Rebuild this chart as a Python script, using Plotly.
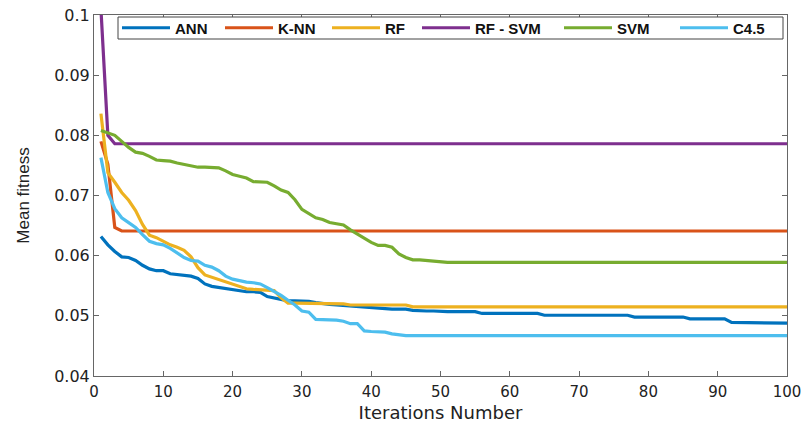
import plotly.graph_objects as go

iterations = list(range(1, 101))

ann = [0.0632, 0.0618, 0.0607, 0.0598, 0.0597, 0.0592, 0.0584, 0.0578, 0.0575, 0.0575,
       0.0570, 0.0569, 0.0568, 0.0566, 0.0562, 0.0553, 0.0549, 0.0547, 0.0545, 0.0544,
       0.0542, 0.0540, 0.0540, 0.0539, 0.0532, 0.0530, 0.0527, 0.0525, 0.0525, 0.0525,
       0.0524, 0.0522, 0.0520, 0.0519, 0.0518, 0.0517, 0.0516, 0.0515, 0.0515, 0.0514,
       0.0513, 0.0511, 0.0511, 0.0511, 0.0511, 0.0509, 0.0508, 0.0508, 0.0508, 0.0507,
       0.0507, 0.0507, 0.0507, 0.0507, 0.0507, 0.0504, 0.0504, 0.0504, 0.0504, 0.0504,
       0.0504, 0.0504, 0.0504, 0.0504, 0.0501, 0.0501, 0.0501, 0.0501, 0.0501, 0.0501,
       0.0501, 0.0501, 0.0501, 0.0501, 0.0501, 0.0501, 0.0501, 0.0498, 0.0498, 0.0498,
       0.0498, 0.0498, 0.0498, 0.0498, 0.0498, 0.0495, 0.0495, 0.0495, 0.0495, 0.0495,
       0.0495, 0.0489, 0.0489, 0.0488, 0.0488, 0.0488, 0.0488, 0.0488, 0.0488, 0.0488]

knn = [0.0790, 0.0752, 0.0647] + [0.0641] * 97

rf = [0.0836, 0.0738, 0.0722, 0.0705, 0.0692, 0.0675, 0.0652, 0.0634, 0.0630, 0.0624,
      0.0618, 0.0614, 0.0609, 0.0598, 0.0580, 0.0568, 0.0564, 0.0560, 0.0556, 0.0553,
      0.0549, 0.0545, 0.0544, 0.0543, 0.0543, 0.0542, 0.0530, 0.0521, 0.0521, 0.0521,
      0.0521, 0.0521, 0.0521, 0.0520, 0.0520, 0.0520, 0.0518, 0.0518, 0.0518, 0.0518,
      0.0518, 0.0518, 0.0518, 0.0518, 0.0518] + [0.0515] * 55

rf_svm = [0.1010, 0.0800] + [0.0786] * 98

svm = [0.0808, 0.0804, 0.0800, 0.0790, 0.0780, 0.0772, 0.0770, 0.0765, 0.0759, 0.0758,
       0.0757, 0.0754, 0.0752, 0.0749, 0.0747, 0.0747, 0.0747, 0.0746, 0.0741, 0.0735,
       0.0732, 0.0729, 0.0723, 0.0723, 0.0722, 0.0716, 0.0709, 0.0705, 0.0693, 0.0677,
       0.0670, 0.0663, 0.0660, 0.0655, 0.0653, 0.0651, 0.0643, 0.0636, 0.0630, 0.0622,
       0.0617, 0.0617, 0.0614, 0.0603, 0.0597, 0.0593, 0.0593, 0.0592, 0.0590] + [0.0589] * 51

c45 = [0.0763, 0.0705, 0.0678, 0.0663, 0.0655, 0.0647, 0.0635, 0.0624, 0.0620, 0.0618,
       0.0612, 0.0605, 0.0597, 0.0592, 0.0591, 0.0584, 0.0581, 0.0575, 0.0566, 0.0561,
       0.0558, 0.0556, 0.0555, 0.0553, 0.0547, 0.0541, 0.0534, 0.0526, 0.0518, 0.0508,
       0.0506, 0.0494, 0.0494, 0.0493, 0.0493, 0.0491, 0.0487, 0.0487, 0.0475, 0.0474,
       0.0474, 0.0473, 0.0470, 0.0468] + [0.0467] * 56

series_names = ["ANN", "K-NN", "RF", "RF - SVM", "SVM", "C4.5"]
series_values = [ann, knn, rf, rf_svm, svm, c45]
colors = ["#0072BD", "#D95319", "#EDB120", "#7E2F8E", "#77AC30", "#4DBEEE"]

x_ticks = list(range(0, 101, 10))
y_ticks = [0.04, 0.05, 0.06, 0.07, 0.08, 0.09, 0.1]
y_tick_labels = ["0.04", "0.05", "0.06", "0.07", "0.08", "0.09", "0.1"]

# layout geometry (pixels)
W, H = 808, 423
L, R, T, B = 94, 21, 15, 47
PW, PH = W - L - R, H - T - B


def px_to_paper_x(px):
    return (px - L) / PW


def px_to_paper_y(py):
    return (H - B - py) / PH


legend_line_starts = [125, 228, 335, 425, 567, 683]

fig = go.Figure()
for i, (name, vals, col) in enumerate(zip(series_names, series_values, colors)):
    lg = "legend" if i == 0 else f"legend{i + 1}"
    fig.add_trace(go.Scatter(x=iterations, y=vals, mode="lines", name=name,
                             line=dict(color=col, width=3.2), legend=lg))

axis_common = dict(showline=True, linecolor="#666", linewidth=1, mirror="allticks",
                   ticks="inside", ticklen=5, tickcolor="#666", showgrid=False,
                   zeroline=False, automargin=False)

fig.update_xaxes(range=[0, 100], tickvals=x_ticks, ticklabelstandoff=2,
                 tickfont=dict(family="DejaVu Sans", size=15, color="#222"),
                 title=dict(text="Iterations Number",
                            font=dict(family="DejaVu Sans", size=18, color="#222"),
                            standoff=14),
                 **axis_common)
fig.update_yaxes(range=[0.04, 0.1], tickvals=y_ticks, ticktext=y_tick_labels,
                 tickfont=dict(family="DejaVu Sans", size=16, color="#222"),
                 title=dict(text="Mean fitness",
                            font=dict(family="Liberation Sans", size=17, color="#222"),
                            standoff=20),
                 **axis_common)

legend_layouts = {}
for i, start in enumerate(legend_line_starts):
    key = "legend" if i == 0 else f"legend{i + 1}"
    legend_layouts[key] = dict(
        orientation="h", x=px_to_paper_x(start - 8), y=px_to_paper_y(28),
        xanchor="left", yanchor="middle",
        bgcolor="rgba(0,0,0,0)", borderwidth=0,
        font=dict(family="Liberation Sans", size=15, color="#111", weight="bold"),
        itemwidth=48,
    )

fig.add_shape(type="rect", xref="paper", yref="paper",
              x0=px_to_paper_x(118), x1=px_to_paper_x(783),
              y0=px_to_paper_y(39), y1=px_to_paper_y(17),
              fillcolor="white", line=dict(color="#444", width=1), layer="above")

fig.update_layout(
    width=W, height=H,
    margin=dict(l=L, r=R, t=T, b=B, autoexpand=False),
    paper_bgcolor="white", plot_bgcolor="white",
    showlegend=True,
    **legend_layouts,
)

fig.write_html("out.html")
